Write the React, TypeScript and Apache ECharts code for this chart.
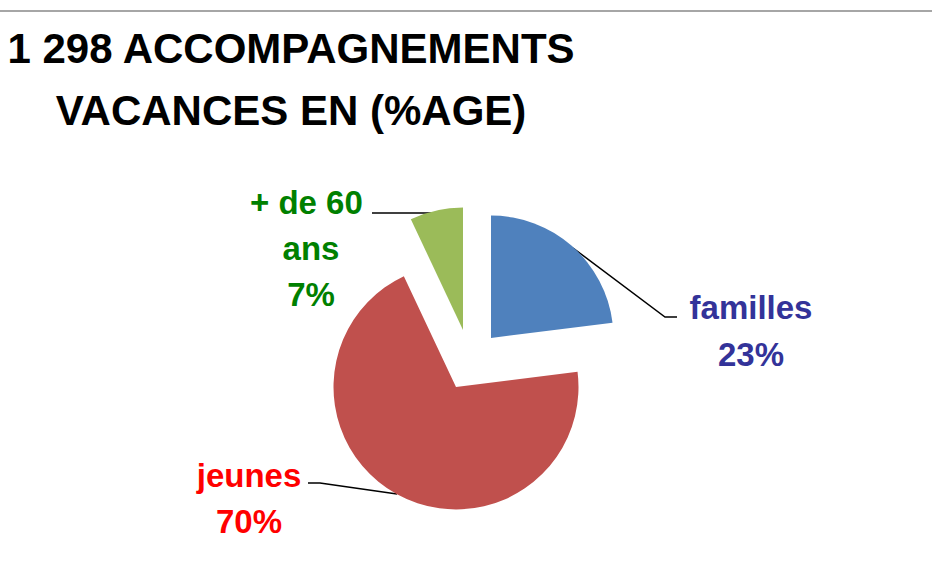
import React, { useEffect, useRef } from "react";
import * as echarts from "echarts";

const titleLines = ["1 298 ACCOMPAGNEMENTS", "VACANCES EN (%AGE)"];
const categories = ["familles", "jeunes", "+ de 60 ans"];
const values = [23, 70, 7];
const sliceColors = ["#4F81BD", "#C0504D", "#9BBB59"];
const labelColors = ["#333399", "#FF0000", "#008000"];

const FONT = "'Liberation Sans', Arial, sans-serif";

// layout (per slice, exploded like the original)
const sliceCenters: [number, number][] = [
  [491, 338],
  [456, 387],
  [463, 330],
];
const labelPos: { x: number; y: number; lh: number; line: number[][] }[] = [
  { x: 751, y: 331, lh: 47, line: [[573, 248], [665, 317], [677, 317]] },
  { x: 249, y: 498, lh: 46, line: [[397, 494], [320, 483], [308, 483]] },
  { x: 311, y: 248, lh: 46, line: [[438, 213], [405, 213], [372, 213]] },
];

export default function App() {
  const ref = useRef<HTMLDivElement>(null);
  useEffect(() => {
    if (!ref.current) return;
    const chart = echarts.init(ref.current, null, { renderer: "svg" });
    const series = categories.map((_, i) => ({
      type: "pie",
      name: categories[i],
      center: sliceCenters[i],
      radius: [0, 122.5],
      startAngle: 90,
      clockwise: true,
      avoidLabelOverlap: false,
      silent: true,
      emphasis: { disabled: true },
      label: {
        fontFamily: FONT,
        fontSize: 33,
        fontWeight: "bold",
        width: 140,
        overflow: "break",
        align: "center",
        lineHeight: labelPos[i].lh,
        formatter: (p: any) => `${p.name}\n${p.value}%`,
      },
      labelLine: { lineStyle: { color: "#000", width: 1.5 } },
      labelLayout: () => ({
        x: labelPos[i].x,
        y: labelPos[i].y,
        align: "center",
        verticalAlign: "middle",
        labelLinePoints: labelPos[i].line,
      }),
      data: values.map((v, j) => ({
        name: categories[j],
        value: v,
        itemStyle: {
          color: j === i ? sliceColors[j] : "rgba(0,0,0,0)",
          borderWidth: 0,
        },
        label: { show: j === i, color: labelColors[j] },
        labelLine: { show: j === i },
      })),
    }));
    chart.setOption({
      animation: false,
      backgroundColor: "#ffffff",
      title: {
        text: titleLines.join("\n"),
        left: 286,
        top: 12,
        textAlign: "center",
        textStyle: {
          fontFamily: FONT,
          fontSize: 42,
          fontWeight: "bold",
          color: "#000",
          lineHeight: 62,
        },
      },
      graphic: [
        {
          type: "line",
          shape: { x1: 0, y1: 11, x2: 932, y2: 11 },
          style: { stroke: "#a6a6a6", lineWidth: 2 },
          silent: true,
        },
      ],
      series,
    });
    return () => chart.dispose();
  }, []);
  return (
    <div
      ref={ref}
      style={{ position: "absolute", left: 0, top: 0, width: 932, height: 562 }}
    />
  );
}
